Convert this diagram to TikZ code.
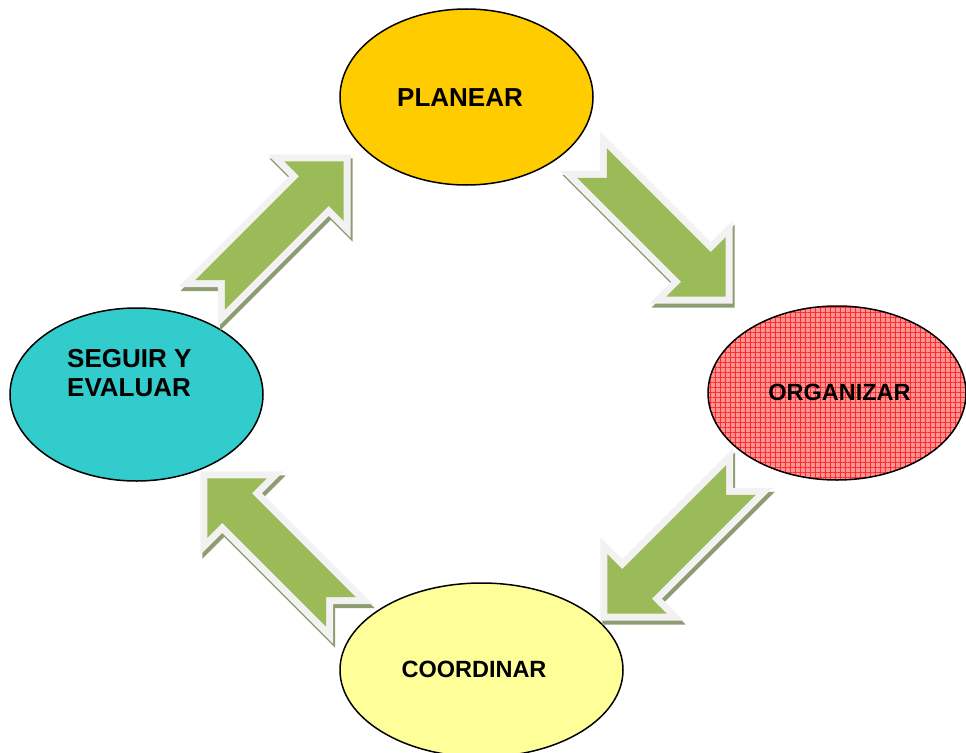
\documentclass[tikz,border=0pt]{standalone}
\usepackage{fontspec}
\setmainfont{Liberation Sans}
\usetikzlibrary{shapes.geometric,patterns.meta,calc}

\definecolor{amarillo}{HTML}{FFCC00}
\definecolor{turquesa}{HTML}{33CCCC}
\definecolor{crema}{HTML}{FFFF99}
\definecolor{rosa}{HTML}{FF9494}
\definecolor{rojo}{HTML}{FF2A2A}
\definecolor{verde}{HTML}{9BBB59}
\definecolor{borde}{HTML}{F2F2F2}
\definecolor{sombra}{HTML}{8E9C72}

\tikzset{
  fase/.style={ellipse, draw=black, line width=1.5pt, inner sep=0pt},
  rotulo/.style={font=\bfseries\fontsize{26}{29}\selectfont, inner sep=0pt},
  rotulochico/.style={font=\bfseries\fontsize{23.5}{28}\selectfont, inner sep=0pt},
  flecha/.style={line width=14pt, line join=miter},
}

\begin{document}
\begin{tikzpicture}[x=1pt, y=-1pt]
    \useasboundingbox (0,0) rectangle (966,752);

    \node[fase, fill=amarillo, minimum width=253, minimum height=176] (planear) at (466.5,97) {};
    \node[fase, preaction={fill=rosa}, pattern={Hatch[angle=0, distance=5pt, line width=0.6pt]}, pattern color=rojo,
      minimum width=258, minimum height=174] (organizar) at (837,393) {};
    \node[fase, fill=crema, minimum width=283, minimum height=174] (coordinar) at (481.5,670) {};
    \node[fase, fill=turquesa, minimum width=253, minimum height=173] (seguir) at (136.5,394.5) {};

    \node[rotulo, anchor=base] (t-planear) at (460,106) {PLANEAR};
    \node[rotulochico, anchor=base] (t-organizar) at (839.5,400) {ORGANIZAR};
    \node[rotulochico, anchor=base] (t-coordinar) at (474,677) {COORDINAR};
    \node[rotulo, anchor=base west, align=left] (t-seguir) at (67,396) {SEGUIR Y\\EVALUAR};

    \coordinate (f1) at (592,163);
    \coordinate (f2) at (741,480);
    \coordinate (f3) at (341,612);
    \coordinate (f4) at (210,295);

    \foreach \c/\a in {f1/-45, f2/-135, f3/135, f4/45} {
      \begin{scope}[shift={($(\c)+(2,4)$)}, rotate=\a]
        \filldraw[flecha, sombra] (0,21) -- (147,21) -- (147,42) -- (189,0) -- (147,-42) -- (147,-21) -- (0,-21) -- (21,0) -- cycle;
      \end{scope}
      \begin{scope}[shift={(\c)}, rotate=\a]
        \draw[flecha, borde] (0,21) -- (147,21) -- (147,42) -- (189,0) -- (147,-42) -- (147,-21) -- (0,-21) -- (21,0) -- cycle;
        \fill[verde] (0,21) -- (147,21) -- (147,42) -- (189,0) -- (147,-42) -- (147,-21) -- (0,-21) -- (21,0) -- cycle;
      \end{scope}
    }
\end{tikzpicture}
\end{document}
